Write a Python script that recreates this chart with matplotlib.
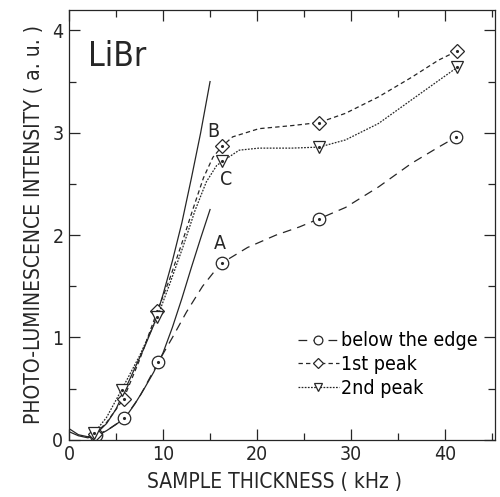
import matplotlib
matplotlib.use("Agg")
import matplotlib.pyplot as plt
from matplotlib.ticker import MultipleLocator

plt.rcParams['font.family'] = ['DejaVu Sans']
plt.rcParams['font.stretch'] = 'condensed'

# | data |-------------------------------------------------------------------------------|
# measured points (markers)
below_x = [2.9, 5.9, 9.5, 16.3, 26.6, 41.2]
below_y = [0.05, 0.21, 0.76, 1.73, 2.16, 2.96]

peak1_x = [2.8, 5.8, 9.4, 16.3, 26.6, 41.3]
peak1_y = [0.06, 0.40, 1.26, 2.87, 3.10, 3.80]

peak2_x = [2.7, 5.6, 9.4, 16.3, 26.6, 41.3]
peak2_y = [0.07, 0.49, 1.20, 2.72, 2.86, 3.64]

# guide curves through the points (traced)
below_cx = [2.9, 4.0, 5.9, 7.5, 9.5, 11.0, 12.5, 14.2, 15.5, 16.3, 19.0, 22.0, 24.5, 26.6,
            29.4, 32.9, 36.4, 39.3, 41.2]
below_cy = [0.05, 0.09, 0.21, 0.42, 0.76, 1.0, 1.25, 1.5, 1.65, 1.73, 1.88, 2.0, 2.08, 2.16,
            2.27, 2.47, 2.70, 2.86, 2.96]

peak1_cx = [2.8, 4.0, 5.8, 7.5, 9.4, 10.7, 12.0, 13.2, 14.3, 15.3, 16.3, 17.4, 20.2, 23.7,
            26.6, 29.4, 32.9, 36.4, 39.3, 41.3]
peak1_cy = [0.06, 0.17, 0.40, 0.78, 1.26, 1.57, 1.92, 2.26, 2.56, 2.76, 2.87, 2.96, 3.04, 3.07,
            3.10, 3.19, 3.35, 3.54, 3.71, 3.80]

peak2_cx = [2.7, 4.0, 5.6, 7.5, 9.4, 10.7, 12.1, 13.4, 14.6, 15.7, 16.3, 18.1, 20.2, 23.7,
            26.6, 29.4, 32.9, 36.4, 39.3, 41.3]
peak2_cy = [0.07, 0.22, 0.49, 0.82, 1.20, 1.52, 1.88, 2.24, 2.52, 2.68, 2.72, 2.83, 2.85, 2.85,
            2.86, 2.93, 3.09, 3.32, 3.51, 3.64]

# solid fit curves
fit_x = [0, 1, 2, 3, 4, 5, 6, 7, 8, 9, 10, 11, 12, 13, 14, 15]
fit_b_y = [0.11, 0.05, 0.03, 0.07, 0.16, 0.30, 0.50, 0.70, 0.90, 1.12, 1.42, 1.75, 2.12, 2.55, 3.00, 3.50]
fit_a_y = [0.08, 0.04, 0.02, 0.04, 0.09, 0.15, 0.22, 0.35, 0.50, 0.66, 0.85, 1.10, 1.38, 1.68, 1.97, 2.25]

labels = ['below the edge', '1st peak', '2nd peak']
curve_tags = [('A', 16.0, 1.92), ('B', 15.3, 3.01), ('C', 16.7, 2.54)]
# |--------------------------------------------------------------------------------------|

ink = '#262626'

fig = plt.figure(figsize=(5.0, 4.97), dpi=100)
ax = fig.add_axes([0.138, 0.115, 0.852, 0.865])

# solid fits
ax.plot(fit_x, fit_b_y, color=ink, lw=0.9)
ax.plot(fit_x, fit_a_y, color=ink, lw=0.9)

series = [
    (below_cx, below_cy, below_x, below_y, 'o', 9, (7, 5)),
    (peak1_cx, peak1_cy, peak1_x, peak1_y, 'D', 7, (3.5, 2.5)),
    (peak2_cx, peak2_cy, peak2_x, peak2_y, 'v', 8, (1.4, 1.1)),
]

handles = []
for (cx, cy, mx, my, mk, ms, dash), lab in zip(series, labels):
    ax.plot(cx, cy, color=ink, lw=0.9, dashes=dash)
    ax.plot(mx, my, ls='none', marker=mk, ms=ms, mfc='white', mec=ink, mew=0.9)
    ax.plot(mx, my, ls='none', marker='.', ms=2.5, color=ink)
    h, = ax.plot([], [], color=ink, lw=0.9, dashes=dash, marker=mk, ms=ms * 0.7,
                 mfc='white', mec=ink, mew=0.9, label=lab)
    handles.append(h)

for tag, tx, ty in curve_tags:
    ax.text(tx, ty, tag, fontsize=14, ha='center', va='center', color=ink)

ax.text(2.0, 3.75, 'LiBr', fontsize=24, ha='left', va='center', color=ink)

ax.legend(handles=handles, loc='upper left', bbox_to_anchor=(0.505, 0.284), frameon=False,
          fontsize=14, handlelength=2.1, handletextpad=0.15, labelspacing=0.25, borderpad=0.2)

ax.set_xlim(0, 45.3)
ax.set_ylim(0, 4.2)
ax.xaxis.set_major_locator(MultipleLocator(10))
ax.xaxis.set_minor_locator(MultipleLocator(5))
ax.yaxis.set_major_locator(MultipleLocator(1))
ax.yaxis.set_minor_locator(MultipleLocator(0.5))
ax.tick_params(which='both', direction='in', top=True, right=True, colors=ink, width=0.9)
ax.tick_params(which='major', length=8, labelsize=14, pad=4)
ax.tick_params(which='minor', length=5)
for s in ax.spines.values():
    s.set_color(ink)
    s.set_linewidth(0.9)

ax.set_xlabel('SAMPLE THICKNESS ( kHz )', fontsize=15, color=ink)
ax.set_ylabel('PHOTO-LUMINESCENCE INTENSITY ( a. u. )', fontsize=15, color=ink, labelpad=6)
ax.xaxis.set_label_coords(0.483, -0.075)

fig.savefig('out.png', dpi=100)
